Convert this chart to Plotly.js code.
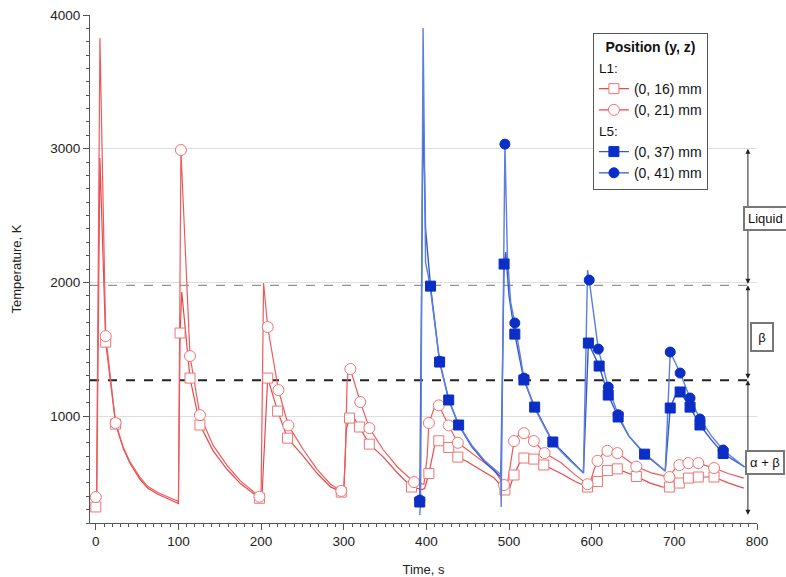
<!DOCTYPE html>
<html>
<head>
<meta charset="utf-8">
<script src="https://cdn.plot.ly/plotly-3.0.1.min.js"></script>
<style>html,body{margin:0;padding:0;background:#fff;}#chart{width:786px;height:577px;}</style>
</head>
<body>
<div id="chart"></div>
<script>
// ---- L1 (0, 16) mm : open squares ----
const l1a_lineT = [0,1,5,12,24,33,41,53,63,75,86,99,
  100,102,104,114,126,142,159,175,190,198,
  201,208,220,232,251,268,284,297,
  300,303,307,313,319,331,348,365,382,395,
  398,403,410,415,427,438,450,466,482,495,
  500,506,512,518,530,542,563,580,595,
  600,607,619,631,654,670,685,694,706,717,729,748,765,784];
const l1a_lineV = [320,330,2930,1553,940,760,650,530,460,415,385,350,
  345,1621,1927,1284,933,740,600,495,420,385,
  390,1284,1037,835,700,570,470,431,
  425,900,985,980,918,790,693,574,469,450,
  460,570,780,815,765,693,656,596,536,447,
  450,559,640,686,678,634,570,510,469,
  480,510,592,605,548,500,470,469,499,536,544,544,500,461];
const l1a_markT = [0,12,24,102,114,126,198,208,220,232,297,307,319,331,382,403,415,427,438,495,506,518,530,542,595,607,619,631,654,694,706,717,729,748];
const l1a_markV = [320,1553,940,1621,1284,933,385,1284,1037,835,431,985,918,790,469,570,815,765,693,447,559,686,678,634,469,510,592,605,548,469,499,536,544,544];

// ---- L1 (0, 21) mm : open circles ----
const l1b_lineT = [0,1,5,12,24,33,41,53,63,75,86,99,
  100,103,114,126,142,159,175,190,198,
  200,203,208,221,233,251,268,284,297,
  300,302,304,306,308,320,331,348,365,385,397,
  401,403,410,415,427,438,450,466,482,494,
  498,502,506,512,518,530,543,563,580,595,
  599,603,607,613,619,625,631,654,672,694,
  700,706,711,717,729,748,765,784];
const l1b_lineV = [394,420,3827,1598,948,770,662,545,472,428,398,365,
  370,2990,1449,1007,780,630,515,440,397,
  400,1995,1666,1194,930,750,600,490,440,
  440,700,1250,1366,1352,1105,910,746,619,506,490,
  700,948,1070,1080,930,800,746,671,596,484,
  490,650,813,860,872,813,723,650,560,490,
  520,600,665,715,740,740,723,622,575,544,
  600,633,650,648,648,611,570,536];
const l1b_markT = [0,12,24,103,114,126,198,208,221,233,297,308,320,331,385,403,415,427,438,494,506,518,530,543,595,607,619,631,654,694,706,717,729,748];
const l1b_markV = [394,1598,948,2990,1449,1007,397,1666,1194,930,440,1352,1105,910,506,948,1080,930,800,484,813,872,813,723,490,665,740,723,622,544,633,648,648,611];

// ---- L5 (0, 37) mm : filled squares ----
const l5a_lineT = [392,396,399,405,416,427,439,455,470,490,
  494,496,500,507,518,531,553,570,590,
  596,609,620,632,645,664,689,
  695,701,707,719,731,745,759,785];
const l5a_lineV = [357,3304,2400,1972,1404,1120,933,770,660,544,
  2137,2226,1900,1613,1270,1067,806,700,574,
  1546,1374,1157,993,850,715,589,
  1060,1150,1180,1067,933,820,720,619];
const l5a_markT = [392,405,416,427,439,494,507,518,531,553,596,609,620,632,664,695,707,719,731,759];
const l5a_markV = [357,1972,1404,1120,933,2137,1613,1270,1067,806,1546,1374,1157,993,715,1060,1180,1067,933,720];

// ---- L5 (0, 41) mm : filled circles ----
const l5b_lineT = [392,393,396,399,404,416,427,439,455,470,488,490,
  490.5,495,498,502,507,518,530,553,570,590,
  595,597,608,620,632,645,665,689,
  695,707,719,731,745,759,785];
const l5b_lineV = [260,372,3902,2150,1990,1410,1125,935,780,670,573,560,
  320,3034,2200,1850,1696,1284,1070,800,690,574,
  2092,2017,1501,1217,1010,850,715,589,
  1479,1322,1135,978,850,746,619];
const l5b_markT = [392,416,495,507,518,597,608,620,632,695,707,719,731,759];
const l5b_markV = [372,1410,3034,1696,1284,2017,1501,1217,1010,1479,1322,1135,978,746];

// phase boundaries and labels
const phaseLevels = [3000, 1978, 1268, 250];
const phaseLabels = ['Liquid', 'β', 'α + β'];
const phaseLabelY = [2481, 1591, 656];
const seriesNames = ['(0, 16) mm', '(0, 21) mm', '(0, 37) mm', '(0, 41) mm'];
const groupTitles = ['L1:', 'L5:'];

const redLine = '#e8494b', redLine2 = '#ef5a5c', redMark = '#ee7474';
const blueLine = '#3256cc', blueLine2 = '#5b7fe0', blueMark = '#0b2ec6';

function lineTrace(x, y, color, w) {
  return {x: x, y: y, mode: 'lines', type: 'scatter', showlegend: false, hoverinfo: 'skip',
    line: {color: color, width: w}};
}
function markTrace(x, y, sym, fill, edge, size) {
  return {x: x, y: y, mode: 'markers', type: 'scatter', showlegend: false,
    marker: {symbol: sym, size: size, color: fill, line: {color: edge, width: 1}}};
}
function legTrace(name, group, gtitle, sym, fill, edge, lc, size) {
  const t = {x: [null], y: [null], mode: 'lines+markers', type: 'scatter', name: name,
    legendgroup: group, line: {color: lc, width: 1.2},
    marker: {symbol: sym, size: size, color: fill, line: {color: edge, width: 1}}};
  if (gtitle) t.legendgrouptitle = {text: gtitle, font: {size: 13.5, color: '#111'}};
  return t;
}

const data = [
  lineTrace(l1a_lineT, l1a_lineV, redLine, 1.2),
  lineTrace(l1b_lineT, l1b_lineV, redLine2, 1.2),
  markTrace(l1a_markT, l1a_markV, 'square', '#ffffff', redMark, 10),
  markTrace(l1b_markT, l1b_markV, 'circle', '#ffffff', redMark, 11),
  lineTrace(l5a_lineT, l5a_lineV, blueLine, 1.4),
  lineTrace(l5b_lineT, l5b_lineV, blueLine2, 1.4),
  markTrace(l5a_markT, l5a_markV, 'square', blueMark, blueMark, 10),
  markTrace(l5b_markT, l5b_markV, 'circle', blueMark, blueMark, 10),
  legTrace(seriesNames[0], 'L1', groupTitles[0], 'square', '#ffffff', redMark, redLine, 10),
  legTrace(seriesNames[1], 'L1', null, 'circle', '#ffffff', redMark, redLine, 11),
  legTrace(seriesNames[2], 'L5', groupTitles[1], 'square', blueMark, blueMark, blueLine, 10),
  legTrace(seriesNames[3], 'L5', null, 'circle', blueMark, blueMark, blueLine, 10)
];

const arrowX = 789;
const annotations = [];
for (let i = 0; i < 3; i++) {
  annotations.push({x: arrowX, y: phaseLevels[i], ax: arrowX, ay: phaseLevels[i + 1],
    xref: 'x', yref: 'y', axref: 'x', ayref: 'y', text: '', showarrow: true,
    arrowhead: 2, startarrowhead: 2, arrowside: 'end+start', arrowsize: 1, startarrowsize: 1,
    arrowwidth: 1, arrowcolor: '#222', standoff: 0, startstandoff: 0});
}
const labelX = [1.012, 1.0075, 1.012];
phaseLabels.forEach((txt, i) => {
  const a = {x: labelX[i], y: phaseLabelY[i], xref: 'paper', yref: 'y', text: txt, showarrow: false,
    font: {family: 'Liberation Sans, Arial, sans-serif', size: 13, color: '#111'},
    bgcolor: '#ffffff', bordercolor: '#777', borderwidth: 2, borderpad: 3, xanchor: 'center', yanchor: 'middle'};
  if (txt === 'β') { a.width = 14; a.height = 20; }
  annotations.push(a);
});

const shapes = [
  {type: 'line', xref: 'x', yref: 'y', x0: -7, x1: 795, y0: phaseLevels[1], y1: phaseLevels[1],
    line: {color: '#777', width: 1, dash: 'dash'}, layer: 'below'},
  {type: 'line', xref: 'x', yref: 'y', x0: -7, x1: 795, y0: phaseLevels[2], y1: phaseLevels[2],
    line: {color: '#222', width: 2, dash: 'dash'}, layer: 'below'}
];

const layout = {
  width: 786, height: 577,
  margin: {l: 90, r: 29, t: 15, b: 54},
  paper_bgcolor: '#ffffff', plot_bgcolor: '#ffffff',
  font: {family: 'Liberation Sans, Arial, sans-serif', size: 13, color: '#222'},
  showlegend: true,
  xaxis: {range: [-7, 800], dtick: 100, tick0: 0, ticks: 'outside', ticklen: 6, tickcolor: '#555',
    showline: true, linecolor: '#555', linewidth: 1, showgrid: false, zeroline: false,
    minor: {dtick: 10, ticks: 'outside', ticklen: 3, tickcolor: '#555', showgrid: false},
    tickfont: {size: 13.5, color: '#222'},
    title: {text: 'Time, s', font: {size: 13, color: '#222'}, standoff: 16}},
  yaxis: {range: [200, 4000], dtick: 1000, tick0: 0, ticks: 'outside', ticklen: 6, tickcolor: '#555',
    showline: true, linecolor: '#555', linewidth: 1, showgrid: true, gridcolor: '#dedede', gridwidth: 1,
    zeroline: false,
    minor: {dtick: 100, ticks: 'outside', ticklen: 3, tickcolor: '#555', showgrid: false},
    tickfont: {size: 13.5, color: '#222'},
    title: {text: 'Temperature, K', font: {size: 13, color: '#222'}, standoff: 25}},
  legend: {x: 0.754, y: 0.964, xanchor: 'left', yanchor: 'top', bgcolor: '#ffffff',
    bordercolor: '#555', borderwidth: 1, traceorder: 'grouped', tracegroupgap: 0,
    font: {size: 14, color: '#111'}, itemwidth: 30,
    title: {text: '<b>Position (y, z)</b>', side: 'top center', font: {size: 14, color: '#111'}}},
  shapes: shapes,
  annotations: annotations
};

Plotly.newPlot('chart', data, layout, {staticPlot: true, displayModeBar: false});
</script>
</body>
</html>
